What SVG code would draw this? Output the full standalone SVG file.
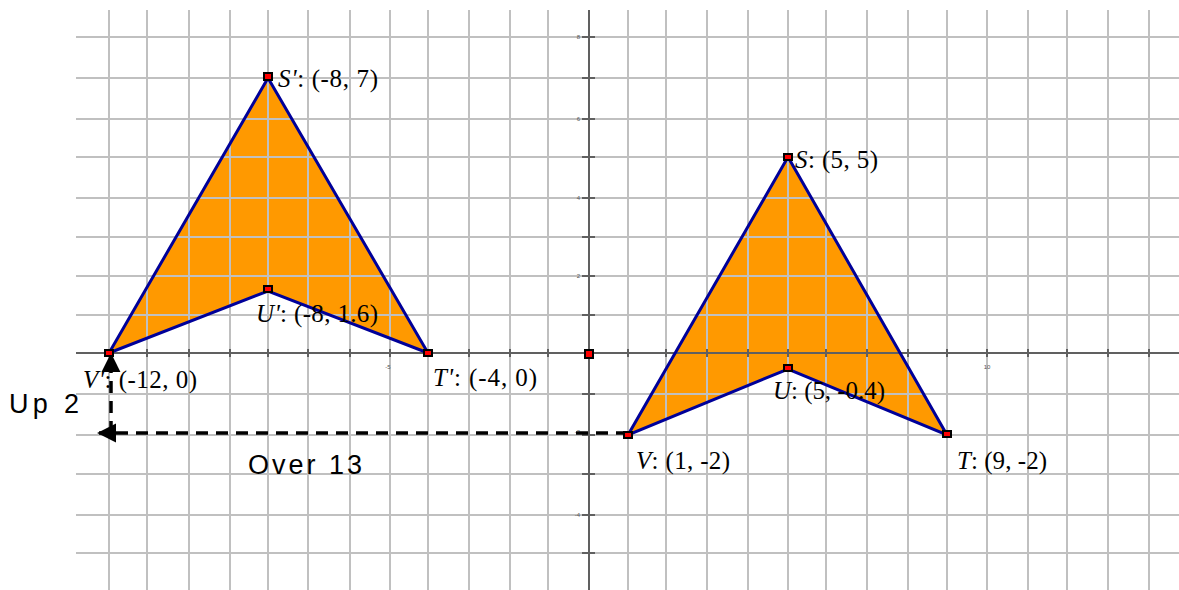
<svg xmlns="http://www.w3.org/2000/svg" width="1179" height="590" viewBox="0 0 1179 590">
<style>
.grid line{stroke:#C0C0C0;stroke-width:2}
.axis{stroke:#606060;stroke-width:2}
.tick{stroke:#606060;stroke-width:2}
.fill{fill:#FF9900;stroke:none}
.edge{fill:none;stroke:#000099;stroke-width:3;stroke-linejoin:miter}
.pt{fill:#FF0000;stroke:#000;stroke-width:2}
.lbl{font-family:"Liberation Serif","Times New Roman",serif;font-size:25px;fill:#000}
.it{font-style:italic}
.sans{font-family:"Liberation Sans",Arial,sans-serif;font-size:27px;fill:#000}
.tl{font-family:"Liberation Sans",Arial,sans-serif;font-size:6px;fill:#555}
.dash{fill:none;stroke:#000;stroke-width:3.5;stroke-dasharray:12 8}
</style>
<defs>
<marker id="ah" viewBox="0 0 10 10" refX="9" refY="5" markerWidth="5.5" markerHeight="5.5" markerUnits="strokeWidth" orient="auto">
<path d="M0,0 L10,5 L0,10 Z" fill="#000"/>
</marker>
</defs>
<rect width="1179" height="590" fill="#fff"/>
<g id="fills">
<polygon class="fill" points="268,78 428,353 268,291 109,353"/>
<polygon class="fill" points="788,157 947,435 788,369 628,435"/>
</g>
<g id="grid" class="grid">
<line x1="109" y1="10" x2="109" y2="590"/><line x1="147" y1="10" x2="147" y2="590"/><line x1="189" y1="10" x2="189" y2="590"/><line x1="230" y1="10" x2="230" y2="590"/><line x1="268" y1="10" x2="268" y2="590"/><line x1="308" y1="10" x2="308" y2="590"/><line x1="350" y1="10" x2="350" y2="590"/><line x1="390" y1="10" x2="390" y2="590"/><line x1="428" y1="10" x2="428" y2="590"/><line x1="469" y1="10" x2="469" y2="590"/><line x1="510" y1="10" x2="510" y2="590"/><line x1="548" y1="10" x2="548" y2="590"/><line x1="628" y1="10" x2="628" y2="590"/><line x1="666" y1="10" x2="666" y2="590"/><line x1="707" y1="10" x2="707" y2="590"/><line x1="748" y1="10" x2="748" y2="590"/><line x1="788" y1="10" x2="788" y2="590"/><line x1="826" y1="10" x2="826" y2="590"/><line x1="867" y1="10" x2="867" y2="590"/><line x1="908" y1="10" x2="908" y2="590"/><line x1="947" y1="10" x2="947" y2="590"/><line x1="987" y1="10" x2="987" y2="590"/><line x1="1028" y1="10" x2="1028" y2="590"/><line x1="1067" y1="10" x2="1067" y2="590"/><line x1="1108" y1="10" x2="1108" y2="590"/><line x1="1149" y1="10" x2="1149" y2="590"/>
<line x1="76" y1="37" x2="1179" y2="37"/><line x1="76" y1="78" x2="1179" y2="78"/><line x1="76" y1="119" x2="1179" y2="119"/><line x1="76" y1="157" x2="1179" y2="157"/><line x1="76" y1="198" x2="1179" y2="198"/><line x1="76" y1="237" x2="1179" y2="237"/><line x1="76" y1="276" x2="1179" y2="276"/><line x1="76" y1="315" x2="1179" y2="315"/><line x1="76" y1="394" x2="1179" y2="394"/><line x1="76" y1="435" x2="1179" y2="435"/><line x1="76" y1="474" x2="1179" y2="474"/><line x1="76" y1="515" x2="1179" y2="515"/><line x1="76" y1="553" x2="1179" y2="553"/>
</g>
<g id="axes">
<line class="axis" x1="76" y1="353" x2="1179" y2="353"/>
<line class="axis" x1="589" y1="10" x2="589" y2="590"/>
<path class="tick" d="M582,37H595M582,78H595M582,119H595M582,157H595M582,198H595M582,237H595M582,276H595M582,315H595M582,394H595M582,435H595M582,474H595M582,515H595M582,553H595"/>
<path class="tick" d="M109,349V357M147,349V357M189,349V357M230,349V357M268,349V357M308,349V357M350,349V357M390,349V357M428,349V357M469,349V357M510,349V357M548,349V357M628,349V357M666,349V357M707,349V357M748,349V357M788,349V357M826,349V357M867,349V357M908,349V357M947,349V357M987,349V357M1028,349V357M1067,349V357M1108,349V357M1149,349V357"/>
<text class="tl" x="580" y="39" text-anchor="end">8</text>
<text class="tl" x="580" y="121" text-anchor="end">6</text>
<text class="tl" x="580" y="200" text-anchor="end">4</text>
<text class="tl" x="580" y="278" text-anchor="end">2</text>
<text class="tl" x="580" y="434" text-anchor="end">-2</text>
<text class="tl" x="580" y="517" text-anchor="end">-4</text>
<text class="tl" x="388" y="369" text-anchor="middle">-5</text>
<text class="tl" x="987" y="369" text-anchor="middle">10</text>
</g>
<g id="connectors">
<line class="dash" x1="628" y1="433" x2="99" y2="433" marker-end="url(#ah)"/>
<line class="dash" x1="111" y1="433" x2="111" y2="355" marker-end="url(#ah)"/>
</g>
<g id="image-shape">
<polygon class="edge" points="268,78 428,353 268,291 109,353"/>
</g>
<g id="preimage-shape">
<polygon class="edge" points="788,157 947,435 788,369 628,435"/>
</g>
<g id="points">
<rect class="pt" x="264" y="73" width="8" height="7"/>
<rect class="pt" x="264" y="286" width="8" height="6"/>
<rect class="pt" x="424" y="350" width="8" height="6"/>
<rect class="pt" x="105" y="350" width="8" height="6"/>
<rect class="pt" x="585" y="350" width="8" height="8"/>
<rect class="pt" x="784" y="154" width="8" height="6"/>
<rect class="pt" x="784" y="365" width="8" height="6"/>
<rect class="pt" x="624" y="432" width="8" height="6"/>
<rect class="pt" x="943" y="431" width="8" height="6"/>
</g>
<g id="labels">
<text class="lbl" x="278" y="87" textLength="100" lengthAdjust="spacing"><tspan class="it">S'</tspan>: (-8, 7)</text>
<text class="lbl" x="256" y="322" textLength="122" lengthAdjust="spacing"><tspan class="it">U'</tspan>: (-8, 1.6)</text>
<text class="lbl" x="83" y="388" textLength="114" lengthAdjust="spacing"><tspan class="it">V'</tspan>: (-12, 0)</text>
<text class="lbl" x="433" y="386" textLength="104" lengthAdjust="spacing"><tspan class="it">T'</tspan>: (-4, 0)</text>
<text class="lbl" x="795" y="168" textLength="83" lengthAdjust="spacing"><tspan class="it">S</tspan>: (5, 5)</text>
<text class="lbl" x="773" y="399" textLength="112" lengthAdjust="spacing"><tspan class="it">U</tspan>: (5, -0.4)</text>
<text class="lbl" x="636" y="469" textLength="94" lengthAdjust="spacing"><tspan class="it">V</tspan>: (1, -2)</text>
<text class="lbl" x="957" y="469" textLength="90" lengthAdjust="spacing"><tspan class="it">T</tspan>: (9, -2)</text>
<text class="sans" x="9" y="413" textLength="70" lengthAdjust="spacing">Up 2</text>
<text class="sans" x="248" y="474" textLength="114" lengthAdjust="spacing">Over 13</text>
</g>
</svg>
